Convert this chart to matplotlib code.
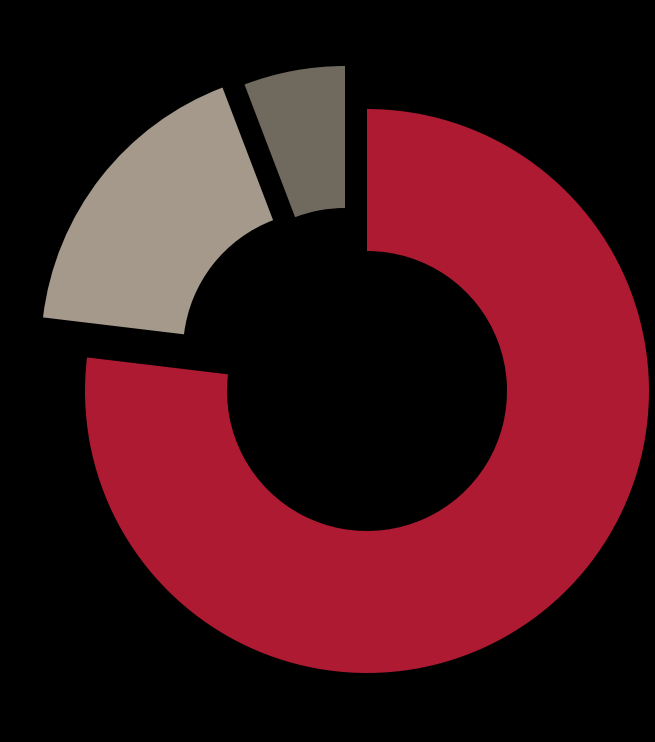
import matplotlib
matplotlib.use("Agg")
import matplotlib.pyplot as plt

# share of each slice (percent), clockwise from 12 o'clock
labels = ["Main", "Second", "Third"]
values = [76.9, 17.3, 5.8]
colors = ["#AD1A31", "#A4998A", "#706A5E"]

# pixel layout (y up)
center = (367, 351)
outer_r = 282
ring_w = 142
# the two small slices are pulled out, each by its own offset
offsets = [(0, 0), (-44, 40), (-22, 43)]

fig = plt.figure(figsize=(6.55, 7.42), dpi=100, facecolor="black")
ax = fig.add_axes([0, 0, 1, 1])
ax.set_facecolor("black")

wedges, _ = ax.pie(values, colors=colors, startangle=90, counterclock=False,
                   radius=outer_r, center=center,
                   wedgeprops=dict(width=ring_w, linewidth=0))

for w, (dx, dy) in zip(wedges, offsets):
    w.set_center((center[0] + dx, center[1] + dy))

ax.set_xlim(0, 655)
ax.set_ylim(0, 742)
ax.set_aspect("equal")
ax.axis("off")

fig.savefig("out.png", dpi=100, facecolor="black")
plt.close(fig)
